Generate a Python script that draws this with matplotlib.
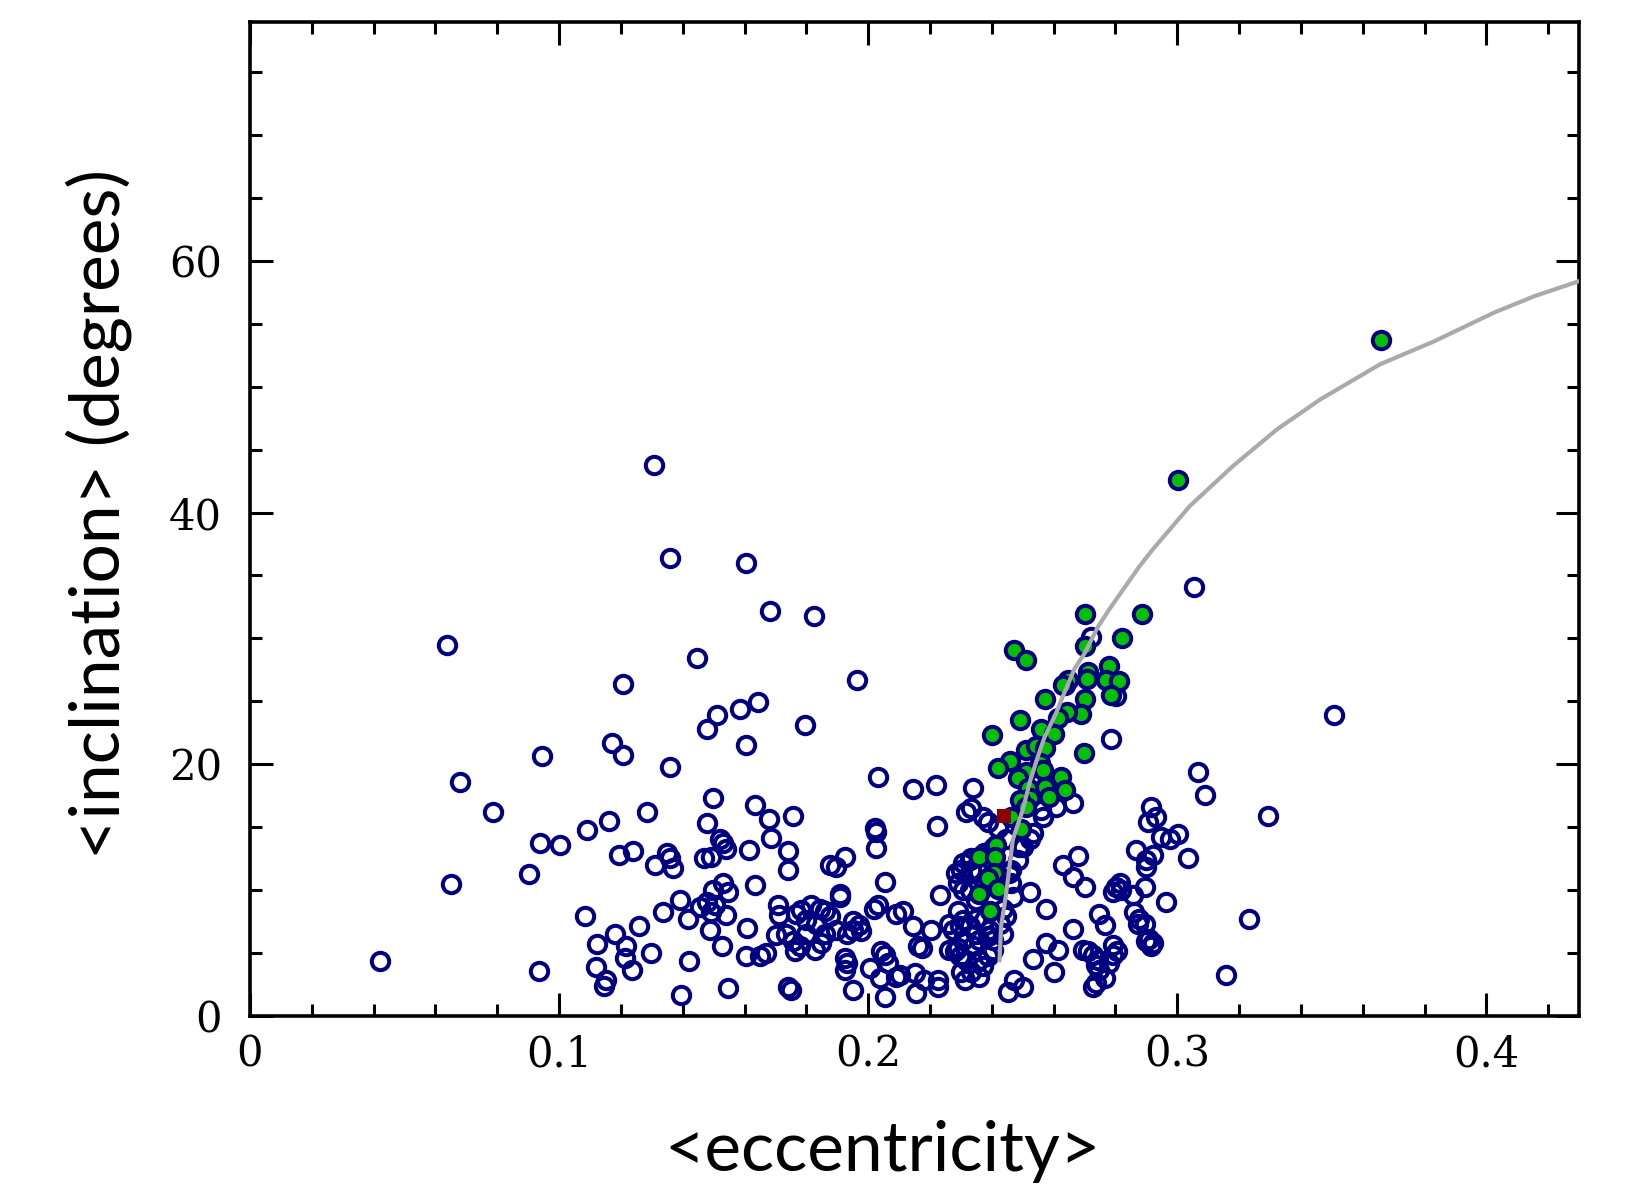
import matplotlib
matplotlib.use("Agg")
import matplotlib.pyplot as plt
from matplotlib.ticker import MultipleLocator

# open circles: (<eccentricity>, <inclination>)
blue_e = [0.1307, 0.136, 0.1606, 0.1682, 0.1826, 0.1446, 0.0637, 0.1963, 0.1208, 0.1644,
          0.1584, 0.1512, 0.1477, 0.1796, 0.1171, 0.1604, 0.1208, 0.0945, 0.136, 0.0678,
          0.2031, 0.2145, 0.2219, 0.1499, 0.1635, 0.0785, 0.1286, 0.1757, 0.168, 0.1163,
          0.148, 0.2223, 0.2022, 0.2024, 0.109, 0.0938, 0.1004, 0.152, 0.153, 0.154,
          0.1685, 0.1615, 0.174, 0.2026, 0.124, 0.1195, 0.135, 0.136, 0.137, 0.131,
          0.147, 0.149, 0.174, 0.1875, 0.1897, 0.1924, 0.0903, 0.065, 0.2053, 0.1633,
          0.1498, 0.153, 0.1547, 0.191, 0.191, 0.2231, 0.139, 0.1336, 0.1417, 0.126,
          0.118, 0.1083, 0.1123, 0.1216, 0.1212, 0.1118, 0.1235, 0.1151, 0.1146, 0.0935,
          0.042, 0.1297, 0.142, 0.1393, 0.1547, 0.174, 0.1751, 0.1455, 0.148, 0.149,
          0.1505, 0.154, 0.1487, 0.1528, 0.1608, 0.1708, 0.1711, 0.1703,
          0.1767, 0.1783, 0.1816, 0.1844, 0.186, 0.1875, 0.180, 0.183, 0.1735, 0.1756,
          0.178, 0.1827, 0.1848, 0.180, 0.186, 0.1897, 0.193, 0.195, 0.197, 0.195,
          0.1977, 0.202, 0.2032, 0.209, 0.2112, 0.2145, 0.216, 0.1762,
          0.1649, 0.167, 0.1605, 0.1924, 0.193, 0.1924, 0.195,
          0.2005, 0.2041, 0.2053, 0.2064, 0.2037, 0.209, 0.2053, 0.215, 0.2155,
          0.2204, 0.2175, 0.2102, 0.2182, 0.2225, 0.2225,
          0.2263, 0.2274, 0.229, 0.2296, 0.2263, 0.228, 0.229, 0.2296, 0.2306,
          0.2312, 0.23, 0.2333, 0.236, 0.237, 0.2387, 0.2403, 0.2403, 0.2387, 0.236,
          0.2349, 0.2339, 0.2317, 0.236, 0.2376, 0.2328, 0.2306, 0.2349, 0.2392, 0.2425,
          0.2436, 0.2446, 0.2436, 0.2463, 0.2468, 0.2457, 0.2425, 0.2392, 0.236, 0.2333,
          0.23, 0.2284, 0.229, 0.2306, 0.2328, 0.2349, 0.2333, 0.2376, 0.2403, 0.2489,
          0.2484, 0.2522,
          0.2522, 0.2575, 0.263, 0.2662, 0.2678, 0.27, 0.2662, 0.2575, 0.2613, 0.2532,
          0.2602, 0.2694, 0.271, 0.2726, 0.2737, 0.2726, 0.2473, 0.25, 0.2452, 0.2748,
          0.3055, 0.272, 0.2638, 0.2802, 0.2784, 0.3068, 0.3088, 0.234, 0.2317, 0.2333,
          0.237, 0.2387, 0.2565, 0.2532, 0.2558, 0.2662, 0.2608, 0.2419, 0.2446, 0.25,
          0.2463, 0.2306, 0.2328, 0.2765,
          0.2915, 0.2931, 0.2904, 0.2947, 0.2975, 0.3001, 0.3034, 0.2866, 0.2899, 0.292,
          0.2802, 0.2818, 0.2791, 0.2856, 0.2894, 0.2963, 0.2861, 0.2877, 0.2894, 0.291,
          0.292, 0.2791, 0.2806, 0.2778, 0.2748, 0.2765, 0.2737, 0.3157, 0.3232,
          0.3294, 0.2899, 0.2813, 0.2872, 0.2915, 0.2899, 0.2743, 0.2791, 0.3507]
blue_i = [43.8, 36.35, 35.95, 32.2, 31.8, 28.4, 29.5, 26.7, 26.35, 24.9,
          24.4, 23.9, 22.8, 23.1, 21.65, 21.5, 20.75, 20.65, 19.75, 18.55,
          18.95, 18.0, 18.3, 17.3, 16.75, 16.15, 16.2, 15.85, 15.6, 15.5,
          15.3, 15.05, 14.9, 14.6, 14.75, 13.75, 13.55, 14.0, 13.7, 13.25,
          14.1, 13.2, 13.1, 13.3, 13.1, 12.75, 12.9, 12.5, 11.7, 12.0,
          12.5, 12.6, 11.6, 12.0, 11.8, 12.6, 11.25, 10.45, 10.6, 10.4,
          10.0, 10.5, 9.85, 9.7, 9.45, 9.6, 9.2, 8.2, 7.7, 7.15,
          6.45, 7.95, 5.65, 5.5, 4.6, 3.85, 3.6, 2.8, 2.35, 3.55,
          4.3, 5.0, 4.3, 1.6, 2.2, 2.3, 2.0, 8.6, 9.0, 8.2,
          8.8, 8.0, 6.8, 5.5, 7.0, 8.8, 8.0, 6.4,
          8.1, 8.4, 8.8, 8.5, 8.3, 7.9, 7.6, 7.3, 6.5, 5.9,
          5.5, 5.2, 5.75, 6.5, 6.5, 6.8, 6.5, 7.5, 7.2, 6.8,
          6.7, 8.5, 8.8, 8.1, 8.3, 7.1, 5.5, 5.1,
          4.7, 4.95, 4.7, 4.55, 4.15, 3.6, 2.0,
          3.75, 5.1, 4.8, 4.15, 2.95, 3.1, 1.5, 3.4, 1.8,
          6.8, 5.4, 3.2, 2.8, 2.8, 2.3,
          7.3, 6.8, 8.3, 7.1, 5.2, 5.1, 5.35, 4.7, 6.0,
          2.8, 3.5, 3.5, 3.1, 3.9, 4.7, 5.2, 6.0, 6.3, 6.0,
          6.5, 5.5, 4.4, 4.4, 7.6, 7.1, 7.6, 7.7, 6.8, 7.3,
          6.5, 7.9, 8.5, 10.5, 9.45, 11.3, 11.05, 11.05, 11.4, 11.6,
          11.6, 11.3, 10.5, 10.0, 10.0, 9.2, 12.5, 12.9, 13.3, 13.4,
          12.4, 14.0,
          9.85, 8.5, 12.0, 11.05, 12.65, 10.25, 6.9, 5.75, 5.2, 4.5,
          3.5, 5.2, 5.1, 4.8, 4.0, 2.3, 2.8, 2.3, 1.9, 8.1,
          34.1, 30.1, 26.3, 25.4, 22.0, 19.4, 17.55, 18.1, 16.2, 16.5,
          15.8, 15.4, 15.8, 14.5, 16.35, 16.9, 16.6, 14.9, 14.0, 13.4,
          11.6, 12.1, 12.4, 7.2,
          16.6, 15.8, 15.4, 14.2, 14.0, 14.4, 12.5, 13.2, 12.4, 12.8,
          10.25, 10.0, 9.85, 9.6, 10.25, 9.05, 8.25, 7.7, 7.3, 6.1,
          5.75, 5.6, 5.1, 4.15, 3.6, 2.95, 2.6, 3.2, 7.7,
          15.9, 11.85, 10.5, 7.3, 5.5, 5.9, 4.4, 4.8, 23.9]

# filled (green) points
green_e = [0.3658, 0.3002, 0.27, 0.2885, 0.2471, 0.2511, 0.282, 0.2702, 0.278, 0.271,
           0.2708, 0.2769, 0.281, 0.2784, 0.2646, 0.263, 0.2572, 0.2701, 0.269, 0.2643,
           0.2614, 0.249, 0.24, 0.2558, 0.26, 0.2697, 0.2509, 0.2543, 0.2572, 0.246,
           0.2421, 0.2555, 0.2565, 0.2511, 0.2484, 0.2624, 0.2572, 0.2637, 0.2516, 0.2586,
           0.2522, 0.249, 0.2511, 0.2463, 0.2495, 0.2414, 0.236, 0.2411, 0.2408, 0.2387,
           0.2421, 0.2357, 0.2394]
green_i = [53.7, 42.6, 31.95, 31.95, 29.1, 28.3, 30.05, 29.35, 27.8, 27.3,
           26.8, 26.7, 26.6, 25.45, 26.7, 26.3, 25.2, 25.2, 24.0, 24.1,
           23.65, 23.5, 22.3, 22.8, 22.4, 20.9, 21.1, 21.4, 21.3, 20.25,
           19.7, 20.1, 19.5, 19.4, 18.9, 18.95, 18.2, 17.9, 18.1, 17.4,
           17.3, 17.15, 16.6, 15.8, 14.8, 13.6, 12.6, 12.6, 11.3, 10.9,
           10.1, 9.65, 8.3]

# red square
red_e = [0.2438]
red_i = [15.9]

# grey track
curve_e = [0.2425, 0.243, 0.2444, 0.2452, 0.2468, 0.25, 0.2522, 0.2549, 0.257, 0.2608,
           0.263, 0.2668, 0.27, 0.2743, 0.278, 0.2877, 0.292, 0.304, 0.318, 0.3322,
           0.3463, 0.3657, 0.383, 0.4025, 0.4155, 0.43]
curve_i = [4.4, 7.1, 9.3, 10.8, 14.0, 16.35, 18.5, 20.6, 22.1, 24.05,
           25.4, 27.6, 28.8, 30.9, 32.3, 35.7, 37.05, 40.5, 43.7, 46.6,
           49.0, 51.8, 53.6, 55.9, 57.2, 58.4]

navy = '#000080'

fig = plt.figure(figsize=(16.25, 11.85), dpi=100)
ax = fig.add_axes([0.1538, 0.1430, 0.8180, 0.8384])

ax.plot(blue_e, blue_i, 'o', ms=12.5, mfc='none', mec=navy, mew=2.9, zorder=2)
ax.plot(green_e, green_i, 'o', ms=12.5, mfc='#00c000', mec=navy, mew=2.9, zorder=3)
ax.plot(curve_e, curve_i, '-', color='#aaaaaa', lw=3.0, zorder=4)
ax.plot(red_e, red_i, 's', ms=10, mfc='#8b0000', mec='#8b0000', mew=0, zorder=5)

ax.set_xlim(0, 0.43)
ax.set_ylim(0, 79)

ax.xaxis.set_minor_locator(MultipleLocator(0.02))
ax.yaxis.set_minor_locator(MultipleLocator(5))
ax.set_xticks([0, 0.1, 0.2, 0.3, 0.4])
ax.set_xticklabels(['0', '0.1', '0.2', '0.3', '0.4'])
ax.set_yticks([0, 20, 40, 60])

ax.tick_params(which='both', direction='in', top=True, right=True, width=2.2, color='black')
ax.tick_params(which='major', length=16.5)
ax.tick_params(which='minor', length=8.3)
ax.tick_params(axis='x', which='major', pad=13)
ax.tick_params(axis='y', which='major', pad=20)
for lab in ax.get_xticklabels() + ax.get_yticklabels():
    lab.set_fontfamily('DejaVu Serif')
    lab.set_fontsize(30)

for sp in ax.spines.values():
    sp.set_linewidth(2.6)

ax.set_xlabel('<eccentricity>', fontsize=50, family='Lato', va='center')
ax.xaxis.set_label_coords(0.476, -0.137)
ax.set_ylabel('<inclination> (degrees)', fontsize=50, family='Lato', va='center')
ax.yaxis.set_label_coords(-0.114, 0.505)

fig.savefig('out.png', dpi=100)
